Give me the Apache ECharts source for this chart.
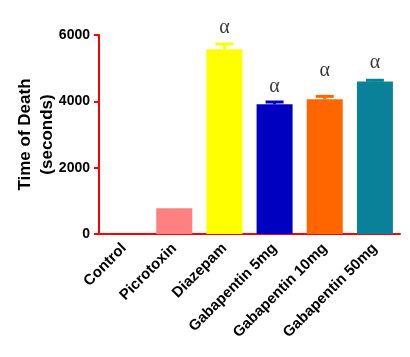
<!DOCTYPE html>
<html><head><meta charset="utf-8">
<script src="https://cdn.jsdelivr.net/npm/echarts@6/dist/echarts.min.js"></script>
<style>html,body{margin:0;padding:0;background:#fff}#c{width:410px;height:357px}</style>
</head><body><div id="c"></div>
<script>
var categories = ['Control','Picrotoxin','Diazepam','Gabapentin 5mg','Gabapentin 10mg','Gabapentin 50mg'];
var means = [0, 775, 5570, 3910, 4060, 4600];
var errors = [0, 0, 160, 70, 90, 35];
var colors = ['#FF8080','#FF8080','#FFFF00','#0000C0','#FF6600','#0A8099'];
var sigText = ['', '', 'α', 'α', 'α', 'α'];
var sigPos = [null, null, 6210, 4430, 4910, 5160];
var yTicks = [0, 2000, 4000, 6000];

var chart = echarts.init(document.getElementById('c'));
chart.setOption({
  animation:false,
  grid:{left:99,right:10,top:35,bottom:123,containLabel:false,outerBoundsMode:'none'},
  xAxis:{type:'category',data:categories,
    axisLine:{lineStyle:{color:'#FF0000',width:2}},
    axisTick:{alignWithLabel:true,length:5,lineStyle:{color:'#FF0000',width:2}},
    axisLabel:{rotate:45,interval:0,margin:12,color:'#000',fontFamily:'Liberation Sans, Arial',fontWeight:'bold',fontSize:15}
  },
  yAxis:{type:'value',min:0,max:6000,interval:2000,
    name:'Time of Death\n(seconds)',nameLocation:'middle',nameGap:41,nameMoveOverlap:false,
    nameTextStyle:{color:'#000',fontFamily:'Liberation Sans, Arial',fontWeight:'bold',fontSize:17,lineHeight:22},
    splitLine:{show:false},
    axisLine:{show:true,lineStyle:{color:'#FF0000',width:2}},
    axisTick:{show:true,length:5,lineStyle:{color:'#FF0000',width:2}},
    axisLabel:{margin:9,color:'#000',fontFamily:'Liberation Sans, Arial',fontWeight:'bold',fontSize:14,
      formatter:function(v){return yTicks.indexOf(v)>=0?String(v):'';}}
  },
  series:[
    {type:'bar',barWidth:36,data:means.map(function(v,i){return {value:v,itemStyle:{color:colors[i]}};}),z:2},
    {type:'custom',z:3,clip:false,
      data:means.map(function(v,i){return [i,v,v+errors[i]];}),
      renderItem:function(params,api){
        var i=api.value(0);
        if(errors[i]<=0) return null;
        var p0=api.coord([i,api.value(1)]);
        var p1=api.coord([i,api.value(2)]);
        var hw=9;
        return {type:'group',children:[
          {type:'line',shape:{x1:p0[0],y1:p0[1],x2:p1[0],y2:p1[1]},style:{stroke:colors[i],lineWidth:3}},
          {type:'line',shape:{x1:p1[0]-hw,y1:p1[1],x2:p1[0]+hw,y2:p1[1]},style:{stroke:colors[i],lineWidth:3}}
        ]};
      }
    },
    {type:'scatter',symbolSize:0,z:4,clip:false,
      data:sigPos.map(function(v,i){return v==null?null:{value:[i,v],label:{show:true,formatter:sigText[i]}};}).filter(function(d){return d;}),
      label:{position:'inside',color:'#000',fontFamily:'Liberation Serif, Times New Roman',fontSize:20}
    }
  ]
});
</script></body></html>
